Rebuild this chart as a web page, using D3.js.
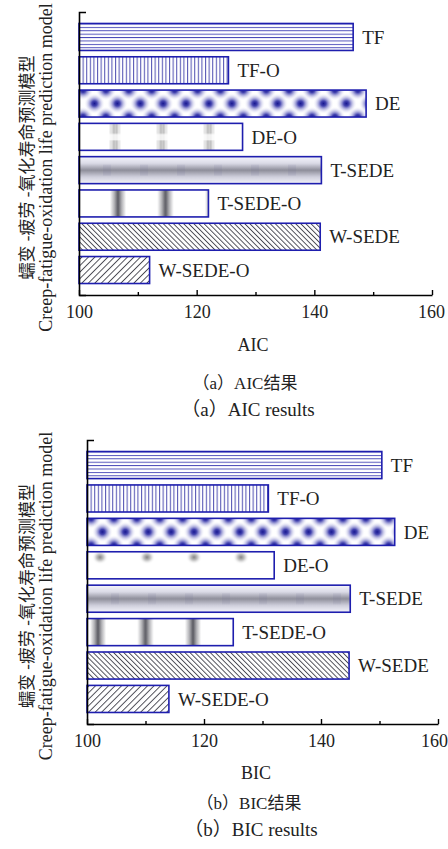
<!DOCTYPE html>
<html>
<head>
<meta charset="utf-8">
<script src="https://cdn.jsdelivr.net/npm/d3@7"></script>
<style>
  body { margin: 0; background: #fff; }
  svg { display: block; }
</style>
</head>
<body>
<svg id="chart" width="448" height="849"></svg>
<script>
// Life-prediction models compared by information criteria
const models = ["TF", "TF-O", "DE", "DE-O", "T-SEDE", "T-SEDE-O", "W-SEDE", "W-SEDE-O"];
const aicValues = [146.6, 125.4, 148.8, 127.8, 141.2, 122.0, 141.0, 112.0];
const bicValues = [150.4, 131.0, 152.6, 132.0, 145.0, 125.0, 144.8, 114.0];
const xDomain = [100, 160];
const majorTicks = [100, 120, 140, 160];
const minorTicks = [110, 130, 150];
const yTitleZh = "蠕变 -疲劳 -氧化寿命预测模型";
const yTitleEn = "Creep-fatigue-oxidation life prediction model";

// Layout of the two stacked panels
const panels = [
  { key: "a", values: aicValues, metric: "AIC",
    xRange: [79, 432], yRange: [12, 295], lastTickShift: -1,
    titleX: 253, titleY: 351,
    capX: 248, capZhX: 245, capZhY: 389, capEnY: 416,
    capZh: "（a）AIC结果", capEn: "（a）AIC results",
    deoRows: [5.5, 22], deoStriped: true, deoOffset: 36, tsoOffset: 39 },
  { key: "b", values: bicValues, metric: "BIC",
    xRange: [87, 438], yRange: [440, 724], lastTickShift: -4,
    titleX: 256, titleY: 779,
    capX: 251, capZhX: 249, capZhY: 809, capEnY: 836,
    capZh: "（b）BIC结果", capEn: "（b）BIC results",
    deoRows: [5.5], deoStriped: false, deoOffset: 13, tsoOffset: 11 }
];

const svg = d3.select("#chart");
const defs = svg.append("defs");
const serif = "'Liberation Serif', 'Times New Roman', serif";
const serifCjk = "'Liberation Serif', 'Noto Sans CJK SC', serif";
const barStroke = "#1e1eae";
const textColor = "#222";
const fontSize = 18;

function addStops(grad, stops) {
  stops.forEach(([o, c, a]) => grad.append("stop")
    .attr("offset", o).attr("stop-color", c).attr("stop-opacity", a));
}

// Shared gradients
addStops(defs.append("radialGradient").attr("id", "deDot"),
  [[0, "#16168e", 1], [0.25, "#2e2ea6", 0.9], [0.55, "#7a7ac8", 0.5], [1, "#ffffff", 0]]);
addStops(defs.append("radialGradient").attr("id", "greyDot"),
  [[0, "#707070", 0.9], [0.45, "#9c9c9c", 0.6], [1, "#ffffff", 0]]);
addStops(defs.append("linearGradient").attr("id", "tsoBand"),
  [[0, "#ffffff", 1], [0.33, "#ffffff", 1], [0.42, "#b4b4b8", 1], [0.5, "#5a5a62", 1],
   [0.58, "#b4b4b8", 1], [0.67, "#ffffff", 1], [1, "#ffffff", 1]]);
addStops(defs.append("linearGradient").attr("id", "tsedeGrad")
    .attr("x1", 0).attr("y1", 0).attr("x2", 0).attr("y2", 1),
  [[0, "#f6f6fc", 1], [0.25, "#dadae6", 1], [0.5, "#8e8e9a", 1], [0.75, "#cfcfdc", 1], [1, "#f3f3fa", 1]]);

function userPattern(id, x, y, w, h) {
  return defs.append("pattern").attr("id", id)
    .attr("patternUnits", "userSpaceOnUse")
    .attr("x", x).attr("y", y).attr("width", w).attr("height", h);
}

function buildPatterns(p, x0, y, bw) {
  const k = p.key;

  // TF: horizontal rules
  const tf = userPattern(`tf-${k}`, 0, y("TF"), 8, 3.4);
  tf.append("rect").attr("width", 8).attr("height", 3.4).attr("fill", "#fff");
  tf.append("line").attr("x1", 0).attr("x2", 8).attr("y1", 0.5).attr("y2", 0.5)
    .attr("stroke", "#3c3cb4").attr("stroke-width", 0.9);

  // TF-O: vertical rules
  const tfo = userPattern(`tfo-${k}`, x0, 0, 3.6, 10);
  tfo.append("rect").attr("width", 3.6).attr("height", 10).attr("fill", "#fff");
  tfo.append("line").attr("x1", 0.6).attr("x2", 0.6).attr("y1", 0).attr("y2", 10)
    .attr("stroke", "#2e2ea2").attr("stroke-width", 0.9);

  // DE: staggered blue dots
  const dw = 22.9;
  const de = userPattern(`de-${k}`, x0 + 4, y("DE"), dw, bw);
  de.append("rect").attr("width", dw).attr("height", bw).attr("fill", "#fff");
  [[dw / 2, bw / 2], [0, 0], [dw, 0], [0, bw], [dw, bw]].forEach(([cx, cy]) =>
    de.append("circle").attr("cx", cx).attr("cy", cy).attr("r", 10.5).attr("fill", "url(#deDot)"));

  // DE-O: soft grey blobs
  const ow = 47;
  const deo = userPattern(`deo-${k}`, x0 + p.deoOffset - ow / 2, y("DE-O"), ow, bw);
  deo.append("rect").attr("width", ow).attr("height", bw).attr("fill", "#fff");
  if (p.deoStriped) {
    const g = deo.append("g").attr("opacity", 0.75);
    d3.range(-5, 5.5, 1.4).forEach(dx => {
      const a = 1 - Math.abs(dx) / 6.5;
      g.append("line").attr("x1", ow / 2 + dx).attr("x2", ow / 2 + dx)
        .attr("y1", 0).attr("y2", bw).attr("stroke", "#6a6a6a")
        .attr("stroke-width", 0.7).attr("opacity", a * 0.3);
      p.deoRows.forEach(ry => g.append("line")
        .attr("x1", ow / 2 + dx).attr("x2", ow / 2 + dx)
        .attr("y1", ry - 5).attr("y2", ry + 5).attr("stroke", "#5a5a5a")
        .attr("stroke-width", 0.7).attr("opacity", a));
    });
  } else {
    p.deoRows.forEach(ry => deo.append("ellipse")
      .attr("cx", ow / 2).attr("cy", ry).attr("rx", 8).attr("ry", 7)
      .attr("fill", "url(#greyDot)"));
  }

  // T-SEDE: grey horizontal band with faint periodic tint
  const tw = 37;
  const ts = userPattern(`ts-${k}`, x0, y("T-SEDE"), tw, bw);
  ts.append("rect").attr("width", tw).attr("height", bw).attr("fill", "url(#tsedeGrad)");
  ts.append("rect").attr("x", 24).attr("y", bw * 0.3).attr("width", 8).attr("height", bw * 0.4)
    .attr("fill", "#6a6a9a").attr("opacity", 0.12);

  // T-SEDE-O: grey vertical soft bands
  const bw2 = 47.5;
  const tso = userPattern(`tso-${k}`, x0 + p.tsoOffset - bw2 / 2, 0, bw2, 10);
  tso.append("rect").attr("width", bw2).attr("height", 10).attr("fill", "url(#tsoBand)");

  // W-SEDE: back-slash hatch
  const ws = userPattern(`ws-${k}`, 0, 0, 3.6, 10).attr("patternTransform", "rotate(-45)");
  ws.append("rect").attr("width", 3.6).attr("height", 10).attr("fill", "#fff");
  ws.append("line").attr("x1", 0.5).attr("x2", 0.5).attr("y1", 0).attr("y2", 10)
    .attr("stroke", "#1e1e2a").attr("stroke-width", 0.8);

  // W-SEDE-O: forward-slash hatch
  const wso = userPattern(`wso-${k}`, 0, 0, 4.6, 10).attr("patternTransform", "rotate(45)");
  wso.append("rect").attr("width", 4.6).attr("height", 10).attr("fill", "#fff");
  wso.append("line").attr("x1", 0.5).attr("x2", 0.5).attr("y1", 0).attr("y2", 10)
    .attr("stroke", "#1e1e2a").attr("stroke-width", 0.8);
}

const patternIds = ["tf", "tfo", "de", "deo", "ts", "tso", "ws", "wso"];

panels.forEach(p => {
  const x = d3.scaleLinear().domain(xDomain).range(p.xRange);
  const y = d3.scaleBand().domain(models).range(p.yRange)
    .paddingInner(0.19).paddingOuter(0.345);
  const bw = y.bandwidth();
  const x0 = x(xDomain[0]);
  const [yTop, yBot] = p.yRange;

  buildPatterns(p, x0, y, bw);

  const g = svg.append("g");
  const rows = models.map((m, i) => ({ m, v: p.values[i], pat: patternIds[i] }));

  // Bars
  g.selectAll("rect.bar").data(rows).join("rect")
    .attr("class", "bar")
    .attr("x", x0)
    .attr("y", d => y(d.m))
    .attr("width", d => x(d.v) - x0)
    .attr("height", bw)
    .attr("fill", d => `url(#${d.pat}-${p.key})`)
    .attr("stroke", barStroke)
    .attr("stroke-width", 1.6);

  // Bar labels
  g.selectAll("text.lbl").data(rows).join("text")
    .attr("class", "lbl")
    .attr("x", d => x(d.v) + 9)
    .attr("y", d => y(d.m) + bw / 2)
    .attr("dy", "0.35em")
    .attr("font-family", serif).attr("font-size", 19).attr("fill", textColor)
    .text(d => d.m);

  // X axis: major ticks with labels, minor ticks inside
  const xAxis = g.append("g").attr("transform", `translate(0,${yBot})`)
    .call(d3.axisBottom(x).tickValues(majorTicks).tickFormat(d3.format("d"))
      .tickSizeInner(-5).tickSizeOuter(0).tickPadding(10.5));
  xAxis.select(".domain").attr("stroke", "#000").attr("stroke-width", 1.6);
  xAxis.selectAll(".tick line").attr("stroke", "#000").attr("stroke-width", 1.4);
  xAxis.selectAll(".tick text").attr("font-family", serif)
    .attr("font-size", fontSize).attr("fill", textColor)
    .attr("dx", d => d === xDomain[1] ? p.lastTickShift : 0);

  const xMinor = g.append("g").attr("transform", `translate(0,${yBot})`)
    .call(d3.axisBottom(x).tickValues(minorTicks).tickFormat("")
      .tickSizeInner(-3).tickSizeOuter(0));
  xMinor.select(".domain").remove();
  xMinor.selectAll(".tick line").attr("stroke", "#000").attr("stroke-width", 1.4);

  // Y axis: plain spine with an end cap at the top
  const yAxis = g.append("g").attr("transform", `translate(${x0},0)`)
    .call(d3.axisLeft(d3.scaleLinear().range([yTop, yBot])).tickValues([]).tickSizeOuter(-7));
  yAxis.select(".domain").attr("stroke", "#000").attr("stroke-width", 1.6).attr("fill", "none");

  // Axis titles
  g.append("text").attr("x", p.titleX).attr("y", p.titleY)
    .attr("text-anchor", "middle").attr("font-family", serif)
    .attr("font-size", fontSize).attr("fill", textColor).text(p.metric);

  const yc = (yTop + yBot) / 2 + 14;
  g.append("text").attr("transform", `translate(33,${yc}) rotate(-90)`)
    .attr("text-anchor", "middle").attr("font-family", serifCjk)
    .attr("font-size", 17).attr("fill", textColor).text(yTitleZh);
  g.append("text").attr("transform", `translate(52,${yc}) rotate(-90)`)
    .attr("text-anchor", "middle").attr("font-family", serif)
    .attr("font-size", fontSize).attr("fill", textColor).text(yTitleEn);

  // Panel captions
  g.append("text").attr("x", p.capZhX).attr("y", p.capZhY)
    .attr("text-anchor", "middle").attr("font-family", serifCjk)
    .attr("font-size", 17).attr("fill", textColor).text(p.capZh);
  g.append("text").attr("x", p.capX).attr("y", p.capEnY)
    .attr("text-anchor", "middle").attr("font-family", serifCjk)
    .attr("font-size", 19).attr("fill", textColor).text(p.capEn);
});
</script>
</body>
</html>
